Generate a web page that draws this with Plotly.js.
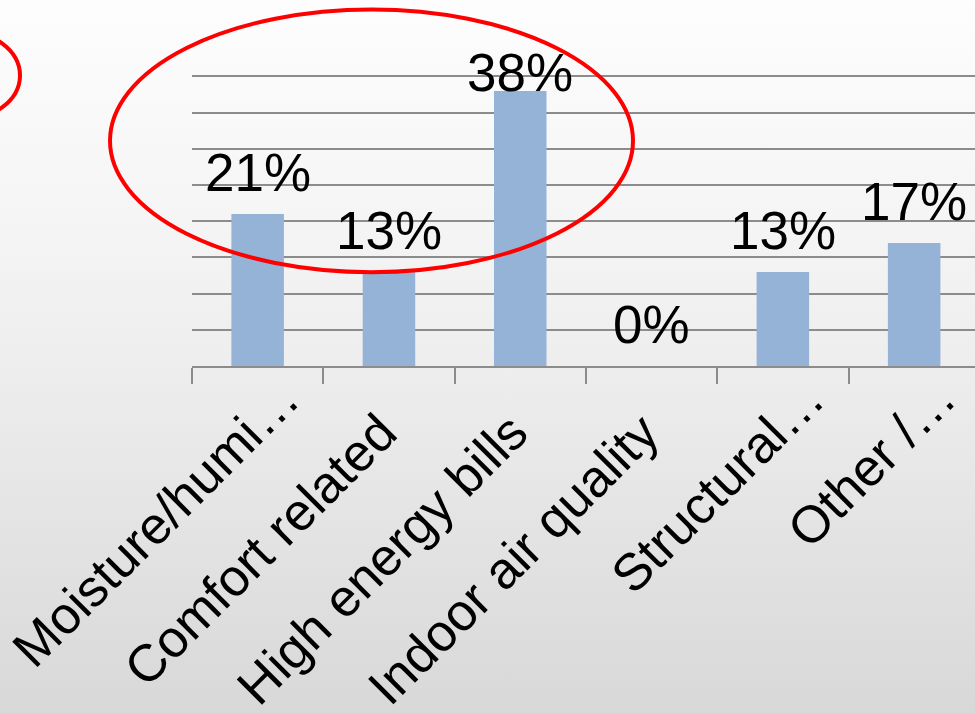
<!DOCTYPE html>
<html>
<head>
<meta charset="utf-8">
<script src="https://cdn.plot.ly/plotly-3.0.1.min.js"></script>
<style>
  html, body { margin: 0; padding: 0; }
  #chart {
    width: 975px; height: 714px;
    background: linear-gradient(to bottom, #fdfdfd 0%, #f5f5f5 30%, #eeeeee 50%, #e3e3e3 75%, #d8d8d8 100%);
  }
</style>
</head>
<body>
<div id="chart"></div>
<script>
// Survey: main reason for the home improvement (share of responses, %)
const categories = [
  "Moisture/humi…",
  "Comfort related",
  "High energy bills",
  "Indoor air quality",
  "Structural…",
  "Other /…"
];
const shares = [21, 13, 38, 0, 13, 17];
const valueLabels = ["21%", "13%", "38%", "0%", "13%", "17%"];

// Canvas geometry (pixels); the value axis runs a hair past 40 so its top gridline is drawn
const W = 975, H = 714;
const yMax = 40.2;
const pxPerUnit = 290 / 40;
const plotLeft = 192, plotRight = 975, plotBottom = 366;
const plotTop = plotBottom - yMax * pxPerUnit;
const FONT = "Liberation Sans, Arial, sans-serif";

// pixel -> paper helpers for the hand-drawn highlight ovals
const px = v => (v - plotLeft) / (plotRight - plotLeft);
const py = v => (plotBottom - v) / (plotBottom - plotTop);

// value labels float a fixed gap above each bar, pushed down if they would leave the chart area
const labelSize = 53;
const labelGap = 23;
const capHeight = 0.716 * labelSize;
const areaTop = 53;
const valueToPx = v => plotBottom - v * pxPerUnit;
const valueNotes = categories.map((c, i) => {
  const barTop = valueToPx(shares[i]);
  const gap = Math.min(labelGap, barTop - (areaTop + capHeight));
  return {
    x: c, y: shares[i], xref: "x", yref: "y",
    text: valueLabels[i], showarrow: false,
    yanchor: "bottom", xanchor: "center",
    yshift: gap - 13,
    font: { family: FONT, size: labelSize, color: "#000000" }
  };
});

// Category labels: slanted 45°, the end of each baseline sits just right of its category centre;
// clipped names (ending in an ellipsis) run a little further along their own direction.
const catSize = 52;
const diag = Math.SQRT1_2;
const catNotes = categories.map(c => {
  const trail = c.endsWith("…") ? 49 : 0;
  const endX = 9 + trail * diag;          // baseline end, relative to category centre
  const endY = 70 - trail * diag;         // baseline end, below the axis line
  // rotated text box: right edge ~12px right of the baseline end, top ~36px above it
  return {
    x: c, y: 0, xref: "x", yref: "y",
    text: c, showarrow: false, textangle: -45,
    xanchor: "right", yanchor: "top",
    xshift: endX + 12, yshift: -(endY - 36),
    font: { family: FONT, size: catSize, color: "#000000" }
  };
});

const trace = {
  type: "bar",
  x: categories,
  y: shares,
  width: 0.4,
  marker: { color: "#95b3d7", line: { width: 0 } },
  hoverinfo: "skip"
};

const layout = {
  width: W, height: H,
  margin: { l: plotLeft, r: W - plotRight, t: plotTop, b: H - plotBottom, pad: 0 },
  paper_bgcolor: "rgba(0,0,0,0)",
  plot_bgcolor: "rgba(0,0,0,0)",
  showlegend: false,
  xaxis: {
    type: "category",
    range: [-0.5, -0.5 + (plotRight - plotLeft) / 131.3],
    automargin: false,
    showline: true, linecolor: "#8c8c8c", linewidth: 2,
    ticks: "outside", tickson: "boundaries", ticklen: 16, tickwidth: 2, tickcolor: "#8c8c8c",
    showticklabels: false,
    showgrid: false, zeroline: false, fixedrange: true
  },
  yaxis: {
    range: [0, yMax], dtick: 5, tick0: 0,
    showticklabels: false, ticks: "",
    showgrid: true, gridcolor: "#8c8c8c", gridwidth: 2,
    zeroline: false, showline: false, automargin: false, fixedrange: true
  },
  annotations: valueNotes.concat(catNotes),
  shapes: [
    {
      type: "circle", xref: "paper", yref: "paper", layer: "above",
      x0: px(110), x1: px(633), y0: py(272), y1: py(9),
      line: { color: "#ff0000", width: 4 }
    },
    {
      type: "circle", xref: "paper", yref: "paper", layer: "above",
      x0: px(-100), x1: px(20), y0: py(120), y1: py(30),
      line: { color: "#ff0000", width: 4 }
    }
  ]
};

Plotly.newPlot("chart", [trace], layout, { staticPlot: true, displayModeBar: false });
</script>
</body>
</html>
